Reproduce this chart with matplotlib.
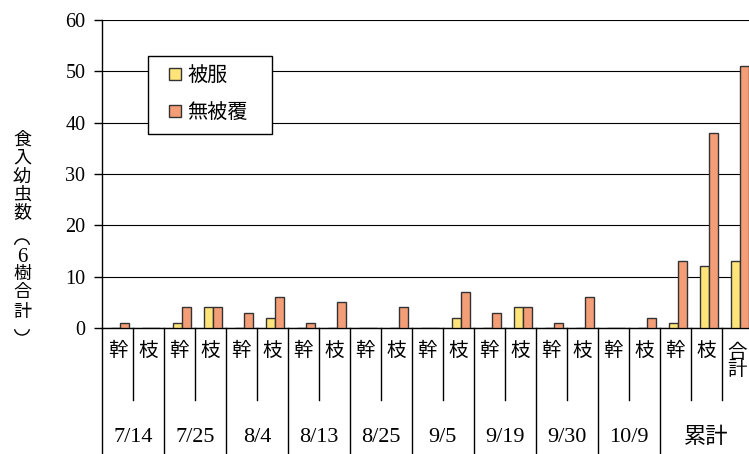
import matplotlib
matplotlib.use("Agg")
from matplotlib import pyplot as plt
from matplotlib.lines import Line2D
from matplotlib.patches import Arc
import numpy as np

plt.rcParams['font.family'] = ['Liberation Serif', 'Noto Sans CJK JP']

# 調査日ごとの区分（幹・枝）と累計
dates = ['7/14', '7/25', '8/4', '8/13', '8/25', '9/5', '9/19', '9/30', '10/9', '累計']
parts = [['幹', '枝']] * 9 + [['幹', '枝', '合\n計']]

covered = [0, 0, 1, 4, 0, 2, 0, 0, 0, 0, 0, 2, 0, 4, 0, 0, 0, 0, 1, 12, 13]
uncovered = [1, 0, 4, 4, 3, 6, 1, 5, 0, 4, 0, 7, 3, 4, 1, 6, 0, 2, 13, 38, 51]

series_names = ['被服', '無被覆']
yellow = '#FFE47A'
orange = '#F49E78'
edge = '#333333'

W, H = 749, 454
fig = plt.figure(figsize=(W / 100, H / 100), dpi=100)
ax = fig.add_axes([102 / W, 126 / H, 647 / W, 308 / H])

x = np.arange(len(covered))
w = 0.29
ax.bar(x + 0.08 - w / 2, covered, w, color=yellow, edgecolor=edge, linewidth=1.0, zorder=3)
ax.bar(x + 0.08 + w / 2, uncovered, w, color=orange, edgecolor=edge, linewidth=1.0, zorder=3)

ax.set_xlim(-0.5, 20.38)
ax.set_ylim(0, 60)
ax.set_yticks(range(0, 61, 10))
ax.tick_params(axis='y', direction='out', length=6, width=1, labelsize=14.5, pad=6)
ax.tick_params(axis='x', length=0, labelbottom=False)
ax.grid(axis='y', color='black', linewidth=0.8, zorder=0)
ax.spines['top'].set_visible(False)
ax.spines['right'].set_visible(False)
ax.spines['left'].set_linewidth(1.0)
ax.spines['bottom'].set_linewidth(1.0)

# 下の表（区分と調査日）
tr = ax.get_xaxis_transform()
y_short, y_long = -0.235, -0.42
ax.plot([-0.5, -0.5], [0, y_long], color='black', lw=1.0, transform=tr, clip_on=False)
pos = 0
for d, ps in zip(dates, parts):
    for k, p in enumerate(ps):
        ax.text(pos, -0.075 if '\n' not in p else -0.108, p, transform=tr, ha='center', va='center',
                fontsize=14, linespacing=0.95)
        sep = pos + 0.5
        if sep < 20.3:
            y_end = y_short if k < len(ps) - 1 else y_long
            ax.plot([sep, sep], [0, y_end], color='black', lw=1.0, transform=tr, clip_on=False)
        pos += 1
    ax.text(pos - len(ps) / 2 - 0.5, -0.357, d, transform=tr, ha='center', va='center', fontsize=16)

# 縦書きの軸ラベル：食入幼虫数（6樹合計）、縦書きの括弧は弧で描く
label_chars = ['食', '入', '幼', '虫', '数', '︵', '6', '樹', '合', '計', '︶']
label_y = [140, 158, 177, 195, 213, 243, 258, 275, 293, 312, 331]
for ch, yy in zip(label_chars, label_y):
    if ch == '︵':
        fig.add_artist(Arc((22 / W, 1 - (yy + 3) / H), 15 / W, 14 / H, theta1=15, theta2=165,
                           transform=fig.transFigure, color='black', lw=1.0))
    elif ch == '︶':
        fig.add_artist(Arc((22 / W, 1 - (yy - 3) / H), 15 / W, 14 / H, theta1=195, theta2=345,
                           transform=fig.transFigure, color='black', lw=1.0))
    else:
        size = 15 if ch == '6' else 13
        fig.text(22 / W, 1 - yy / H, ch, ha='center', va='center', fontsize=size)

handles = [Line2D([], [], linestyle='none', marker='s', markersize=9, markerfacecolor=c,
                  markeredgecolor=edge, markeredgewidth=1.0) for c in (yellow, orange)]
leg = ax.legend(handles, series_names, loc='upper left',
                bbox_to_anchor=((148 - 102) / 647, (328 - 136) / 308, 124 / 647, 80 / 308),
                mode='expand', fontsize=14.5, frameon=True, fancybox=False, edgecolor='black',
                framealpha=1, handlelength=1.6, handleheight=0.7, handletextpad=-0.2,
                labelspacing=0.9, borderpad=0.55, borderaxespad=0)
leg.get_frame().set_linewidth(1.0)
leg.set_zorder(5)

fig.savefig('out.png', dpi=100)
